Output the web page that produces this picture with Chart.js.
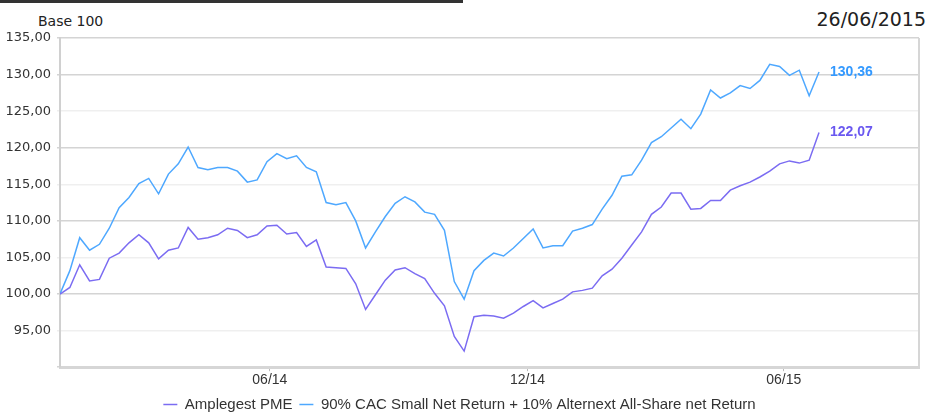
<!DOCTYPE html>
<html lang="fr">
<head>
<meta charset="utf-8">
<title>Amplegest PME - Base 100</title>
<script src="https://cdn.jsdelivr.net/npm/chart.js@4.4.1/dist/chart.umd.min.js"></script>
<style>
    html, body { margin: 0; padding: 0; background: #fff; }
    #wrap { position: relative; width: 929px; height: 412px; overflow: hidden; }
    #topbar { position: absolute; left: 0; top: 0; width: 463px; height: 3px; background: #333; }
    #base { position: absolute; left: 38px; top: 13px; font: 14px 'DejaVu Sans', sans-serif; color: #222; }
    #date { position: absolute; right: 3px; top: 8px; font: 19px 'DejaVu Sans', sans-serif; color: #222; }
    canvas { position: absolute; left: 0; top: 0; }
</style>
</head>
<body>
<div id="wrap">
    <div id="topbar"></div>
    <div id="base">Base 100</div>
    <div id="date">26/06/2015</div>
    <canvas id="perfChart" width="929" height="412"></canvas>
</div>
<script>
// Données hebdomadaires (vendredis), du 03/01/2014 au 26/06/2015
const startDate = Date.UTC(2014, 0, 3);
const weekCount = 78;

const amplegestPME = [
    100.0, 100.9, 104.0, 101.8, 102.0, 104.9, 105.6, 107.0, 108.1, 107.0,
    104.8, 106.0, 106.3, 109.1, 107.5, 107.7, 108.1, 109.0, 108.7, 107.7,
    108.1, 109.3, 109.4, 108.2, 108.4, 106.5, 107.4, 103.7, 103.6, 103.5,
    101.4, 97.9, 99.9, 101.9, 103.3, 103.6, 102.8, 102.1, 100.1, 98.4,
    94.2, 92.2, 96.9, 97.1, 97.0, 96.7, 97.4, 98.3, 99.1, 98.1,
    98.7, 99.3, 100.3, 100.5, 100.8, 102.5, 103.4, 104.9, 106.7, 108.5,
    110.9, 111.9, 113.8, 113.8, 111.6, 111.7, 112.8, 112.8, 114.2, 114.8,
    115.3, 116.0, 116.8, 117.8, 118.2, 117.9, 118.3, 122.07
];

const indiceCAC = [
    100.0, 103.2, 107.7, 106.0, 106.8, 109.0, 111.8, 113.2, 115.1, 115.8,
    113.7, 116.4, 117.8, 120.1, 117.3, 117.0, 117.3, 117.3, 116.8, 115.3,
    115.6, 118.1, 119.2, 118.5, 118.9, 117.3, 116.7, 112.5, 112.2, 112.5,
    110.0, 106.3, 108.5, 110.6, 112.4, 113.3, 112.6, 111.2, 110.9, 108.7,
    101.7, 99.3, 103.2, 104.6, 105.6, 105.2, 106.3, 107.6, 108.9, 106.3,
    106.6, 106.6, 108.6, 109.0, 109.5, 111.6, 113.5, 116.1, 116.3, 118.3,
    120.7, 121.5, 122.7, 123.9, 122.6, 124.6, 127.9, 126.8, 127.5, 128.5,
    128.1, 129.2, 131.4, 131.1, 129.9, 130.6, 127.1, 130.36
];

const tickDates = [Date.UTC(2014, 5, 1), Date.UTC(2014, 11, 1), Date.UTC(2015, 5, 1)];
const tickLabels = ['06/14', '12/14', '06/15'];

const seriesNames = ['Amplegest PME', '90% CAC Small Net Return + 10% Alternext All-Share net Return'];
const seriesColors = ['#7b6cf2', '#4ea8ff'];
const labelColors = ['#6a58f0', '#3399ff'];

const DAY = 86400000;
const days = [];
for (let i = 0; i < weekCount; i++) days.push(i * 7);
const tickDays = tickDates.map(d => (d - startDate) / DAY);

const fmt = v => v.toFixed(2).replace('.', ',');

// Valeur finale affichée au bout de chaque courbe
const endLabels = {
    id: 'endLabels',
    afterDatasetsDraw(chart) {
        const ctx = chart.ctx;
        ctx.save();
        ctx.font = 'bold 14px "Liberation Sans", Arial, sans-serif';
        ctx.textBaseline = 'middle';
        chart.data.datasets.forEach((ds, i) => {
            const pts = chart.getDatasetMeta(i).data;
            const last = pts[pts.length - 1];
            ctx.fillStyle = labelColors[i];
            ctx.fillText(fmt(ds.data[ds.data.length - 1].y), last.x + 11, last.y);
        });
        // bordure droite du graphique
        const a = chart.chartArea;
        ctx.strokeStyle = '#d6d6d6';
        ctx.lineWidth = 2;
        ctx.beginPath();
        ctx.moveTo(a.right, a.top);
        ctx.lineTo(a.right, a.bottom);
        ctx.stroke();
        ctx.restore();
    }
};

const toPoints = arr => arr.map((v, i) => ({ x: days[i], y: v }));

new Chart(document.getElementById('perfChart'), {
    type: 'line',
    data: {
        datasets: [{
            label: seriesNames[0],
            data: toPoints(amplegestPME),
            borderColor: seriesColors[0],
            backgroundColor: seriesColors[0],
            borderWidth: 1.5,
            pointRadius: 0,
            pointStyle: 'line',
            tension: 0
        }, {
            label: seriesNames[1],
            data: toPoints(indiceCAC),
            borderColor: seriesColors[1],
            backgroundColor: seriesColors[1],
            borderWidth: 1.5,
            pointRadius: 0,
            pointStyle: 'line',
            tension: 0
        }]
    },
    options: {
        responsive: false,
        animation: false,
        layout: { padding: { top: 38, right: 10, left: 0, bottom: -10 } },
        plugins: {
            tooltip: { enabled: false },
            legend: {
                position: 'bottom',
                labels: {
                    usePointStyle: true,
                    pointStyleWidth: 14,
                    boxHeight: 12,
                    padding: 7,
                    color: '#333',
                    font: { family: '"Liberation Sans", Arial, sans-serif', size: 15 }
                }
            }
        },
        scales: {
            x: {
                type: 'linear',
                min: 0,
                max: 610,
                afterBuildTicks: scale => { scale.ticks = tickDays.map(v => ({ value: v })); },
                ticks: {
                    autoSkip: false,
                    maxRotation: 0,
                    padding: 1,
                    color: '#333',
                    font: { family: '"Liberation Sans", Arial, sans-serif', size: 14 },
                    callback: (v) => tickLabels[tickDays.indexOf(v)]
                },
                grid: { drawOnChartArea: false, tickLength: 4, color: '#bbb' },
                border: { color: '#d6d6d6', width: 3 }
            },
            y: {
                min: 90,
                max: 135,
                afterFit: scale => { scale.width = 60; },
                ticks: {
                    stepSize: 5,
                    color: '#333',
                    padding: 6,
                    font: { family: '"DejaVu Sans", sans-serif', size: 13 },
                    callback: v => (v === 90 ? '' : fmt(v))
                },
                grid: {
                    drawTicks: true,
                    tickLength: 3,
                    color: ctx => (ctx.tick && ctx.tick.value % 10 === 0 || ctx.tick && ctx.tick.value === 135) ? '#d4d4d4' : '#efefef',
                    lineWidth: 1.5
                },
                border: { color: '#d0d0d0', width: 2 }
            }
        }
    },
    plugins: [endLabels]
});
</script>
</body>
</html>
